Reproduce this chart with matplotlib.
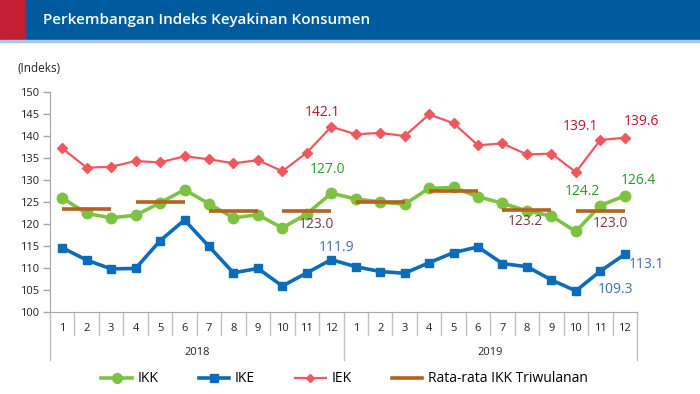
import matplotlib
matplotlib.use("Agg")
import matplotlib.pyplot as plt
from matplotlib.patches import Rectangle
from matplotlib.lines import Line2D

plt.rcParams['font.family'] = ['Open Sans', 'DejaVu Sans']

# data
years = ['2018', '2019']
months = [str(m) for m in range(1, 13)] * 2
ikk = [125.9, 122.4, 121.4, 122.0, 124.8, 127.8, 124.6, 121.4, 122.1, 119.1, 122.3, 127.0,
       125.7, 125.0, 124.5, 128.1, 128.3, 126.2, 124.7, 123.0, 121.8, 118.3, 124.2, 126.4]
ike = [114.6, 111.8, 109.8, 109.9, 116.2, 120.9, 114.9, 108.9, 109.9, 105.9, 108.9, 111.9,
       110.3, 109.2, 108.8, 111.2, 113.5, 114.8, 111.0, 110.3, 107.3, 104.8, 109.3, 113.1]
iek = [137.2, 132.8, 133.0, 134.3, 134.0, 135.4, 134.7, 133.8, 134.5, 132.0, 136.2, 142.1,
       140.4, 140.7, 140.0, 144.9, 142.9, 137.9, 138.3, 135.8, 136.0, 131.8, 139.1, 139.6]
avg_q = [123.3, 125.0, 122.9, 123.0, 125.1, 127.5, 123.2, 123.0]

c_ikk = '#7dc242'
c_ike = '#0b6cbc'
c_iek = '#f0585f'
c_avg = '#b4621c'

fig = plt.figure(figsize=(7, 3.94), dpi=100)

# header banner
fig.patches.append(Rectangle((0, 1 - 40 / 394), 1, 40 / 394, transform=fig.transFigure,
                             color='#005b9e', zorder=0))
fig.patches.append(Rectangle((0, 1 - 40 / 394), 25 / 700, 40 / 394, transform=fig.transFigure,
                             color='#c21f35', zorder=1))
fig.patches.append(Rectangle((0, 1 - 42 / 394), 1, 2 / 394, transform=fig.transFigure,
                             color='#a9c8e6', zorder=1))
fig.text(43 / 700, 1 - 20 / 394, 'Perkembangan Indeks Keyakinan Konsumen', color='white',
         fontsize=11, fontweight='semibold', va='center', ha='left')
fig.text(18 / 700, 1 - 69 / 394, '(Indeks)', fontsize=8.5, va='center', ha='left', color='#222222')

ax = fig.add_axes([50 / 700, 1 - 312 / 394, 587 / 700, 220 / 394])
x = [i + 0.5 for i in range(len(ikk))]

ax.plot(x, iek, color=c_iek, lw=1.6, marker='D', ms=5, zorder=3)
ax.plot(x, ikk, color=c_ikk, lw=2.6, marker='o', ms=7.5, zorder=4)
ax.plot(x, ike, color=c_ike, lw=2.6, marker='s', ms=6, zorder=4)
for q, v in enumerate(avg_q):
    ax.plot([x[3 * q], x[3 * q + 2]], [v, v], color=c_avg, lw=2.6, solid_capstyle='butt', zorder=5)

ax.set_xlim(0, 24)
ax.set_ylim(100, 150)
ax.set_yticks(range(100, 151, 5))
ax.tick_params(axis='y', length=5, width=1, color='#a6a6a6', labelsize=8, pad=3, labelcolor='#222222')
ax.set_xticks([])
for s in ['top', 'right']:
    ax.spines[s].set_visible(False)
for s in ['left', 'bottom']:
    ax.spines[s].set_color('#a6a6a6')

# multi-level category axis
tr = ax.get_xaxis_transform()
for i in range(25):
    bottom = -0.218 if i % 12 == 0 else -0.105
    ax.plot([i, i], [0, bottom], transform=tr, color='#bfbfbf', lw=1, clip_on=False)
for i, m in enumerate(months):
    ax.text(i + 0.5, -0.077, m, transform=tr, ha='center', va='center', fontsize=8, color='#222222')
for j, yr in enumerate(years):
    ax.text(12 * j + 6, -0.186, yr, transform=tr, ha='center', va='center', fontsize=8, color='#222222')

# data labels: (series, index, dx, dy, colour)
red_lbl, green_lbl, brown_lbl, blue_lbl = '#c8102e', '#259b24', '#7a3a3a', '#3d6db5'
labels = [
    (iek, 11, -6, 10, red_lbl),
    (ikk, 11, -3, 17, green_lbl),
    (ike, 11, 4, 9, blue_lbl),
    (iek, 22, -14, 10, red_lbl),
    (iek, 23, 12, 12, red_lbl),
    (ikk, 22, -13, 10, green_lbl),
    (ikk, 23, 10, 11, green_lbl),
    (ike, 23, 16, -7, blue_lbl),
    (ike, 22, 11, -13, blue_lbl),
]
for series, i, dx, dy, col in labels:
    ax.annotate(f'{series[i]:.1f}', (x[i], series[i]), xytext=(dx, dy), textcoords='offset points',
                ha='center', va='center', fontsize=10, color=col, zorder=6)
avg_labels = [(3, 7, -10), (6, -1, -8.5), (7, 7, -9)]
for q, dx, dy in avg_labels:
    ax.annotate(f'{avg_q[q]:.1f}', (x[3 * q + 1], avg_q[q]), xytext=(dx, dy), textcoords='offset points',
                ha='center', va='center', fontsize=10, color=brown_lbl, zorder=6)

handles = [
    Line2D([], [], color=c_ikk, lw=2.6, marker='o', ms=7),
    Line2D([], [], color=c_ike, lw=2.6, marker='s', ms=5.5),
    Line2D([], [], color=c_iek, lw=1.6, marker='D', ms=4.5),
    Line2D([], [], color=c_avg, lw=2.6),
]
fig.legend(handles, ['IKK', 'IKE', 'IEK', 'Rata-rata IKK Triwulanan'], loc='center',
           bbox_to_anchor=(0.492, 1 - 379 / 394), ncol=4, frameon=False, fontsize=10,
           handlelength=2.2, handletextpad=0.4, columnspacing=2.9)

fig.savefig('out.png', dpi=100)
